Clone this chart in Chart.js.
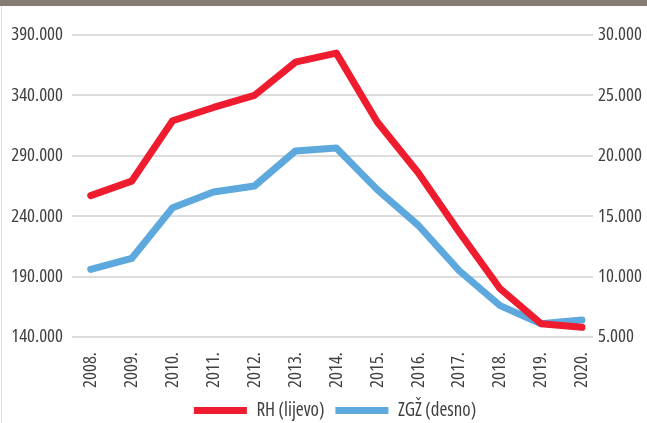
<!DOCTYPE html>
<html lang="hr">
<head>
<meta charset="utf-8">
<title>RH i ZGŽ</title>
<script src="https://cdn.jsdelivr.net/npm/chart.js@4.4.1/dist/chart.umd.min.js"></script>
<style>
    html, body { margin: 0; padding: 0; background: #fff; }
    .wrap { position: relative; width: 647px; height: 423px; overflow: hidden; }
    .wrap canvas { position: absolute; left: 0; top: 0; }
    .top-band { position: absolute; left: 0; top: 0; width: 647px; height: 6px; background: #877c75; }
    .left-rule { position: absolute; left: 1px; top: 6px; width: 1px; height: 417px; background: #e0e0e0; }
</style>
</head>
<body>
<div class="wrap">
    <canvas id="chart" width="647" height="423"></canvas>
    <div class="top-band"></div>
    <div class="left-rule"></div>
</div>
<script>
// podaci
const years = ['2008.', '2009.', '2010.', '2011.', '2012.', '2013.', '2014.',
    '2015.', '2016.', '2017.', '2018.', '2019.', '2020.'];
const rhValues = [257000, 269000, 319000, 330000, 340000, 367500, 375000,
    318000, 276000, 227000, 180000, 151000, 148000];
const zgzValues = [10600, 11500, 15700, 17000, 17500, 20400, 20650,
    17200, 14250, 10500, 7600, 6100, 6400];
const leftTicks = [140000, 190000, 240000, 290000, 340000, 390000];
const rightTicks = [5000, 10000, 15000, 20000, 25000, 30000];
const seriesNames = ['RH (lijevo)', 'ZGŽ (desno)'];

(function () {
    'use strict';

    // uski font: Open Sans u "condensed" širini
    const FONT = "'Open Sans', 'DejaVu Sans Condensed', sans-serif";
    const STRETCH = 'condensed';
    const TEXT = '#404040';
    const GRID = '#dcdcdc';

    function tickFont(size) {
        return { family: FONT, size: size, weight: STRETCH };
    }

    function formatThousands(value) {
        return String(Math.round(value)).replace(/\B(?=(\d{3})+(?!\d))/g, '.');
    }

    function toPoints(values) {
        return values.map(function (v, i) { return { x: i, y: v }; });
    }

    function buildDataset(label, values, color, axis) {
        return {
            label: label,
            data: toPoints(values),
            yAxisID: axis,
            borderColor: color,
            backgroundColor: color,
            borderWidth: 7,
            borderCapStyle: 'round',
            borderJoinStyle: 'round',
            pointRadius: 0,
            tension: 0,
            fill: false
        };
    }

    function valueAxis(ticks, position, width, padding, showGrid) {
        return {
            position: position,
            min: ticks[0],
            max: ticks[ticks.length - 1],
            border: { display: false },
            grid: {
                display: showGrid,
                drawOnChartArea: showGrid,
                drawTicks: false,
                color: GRID,
                lineWidth: 2
            },
            ticks: {
                stepSize: ticks[1] - ticks[0],
                padding: padding,
                color: TEXT,
                font: tickFont(18.7),
                callback: function (value) { return formatThousands(value); }
            },
            afterFit: function (scale) { scale.width = width; }
        };
    }

    function initChart() {
        const ctx = document.getElementById('chart').getContext('2d');
        new Chart(ctx, {
            type: 'line',
            data: {
                datasets: [
                    buildDataset(seriesNames[0], rhValues, '#ee1c2e', 'y'),
                    buildDataset(seriesNames[1], zgzValues, '#5da9dd', 'y1')
                ]
            },
            options: {
                responsive: false,
                animation: false,
                // negativni desni padding pomiče legendu udesno kao u izvorniku
                layout: { padding: { left: 0, right: -23, top: 35, bottom: 0 } },
                scales: {
                    x: {
                        type: 'linear',
                        min: -0.457,
                        max: 12.27,
                        border: { display: false },
                        grid: { display: false, drawTicks: false },
                        ticks: {
                            stepSize: 1,
                            includeBounds: false,
                            autoSkip: false,
                            minRotation: 90,
                            maxRotation: 90,
                            padding: 15,
                            color: TEXT,
                            font: tickFont(18.7),
                            callback: function (value) {
                                return Number.isInteger(value) ? years[value] : '';
                            }
                        },
                        afterFit: function (scale) { scale.height = 53; }
                    },
                    y: valueAxis(leftTicks, 'left', 72, 9, true),
                    y1: valueAxis(rightTicks, 'right', 77, 5, false)
                },
                plugins: {
                    legend: {
                        position: 'bottom',
                        maxHeight: 33,
                        labels: {
                            usePointStyle: true,
                            pointStyle: 'line',
                            pointStyleWidth: 53,
                            padding: 11,
                            color: TEXT,
                            font: tickFont(19)
                        }
                    },
                    tooltip: { enabled: false }
                }
            }
        });
    }

    initChart();
})();
</script>
</body>
</html>
